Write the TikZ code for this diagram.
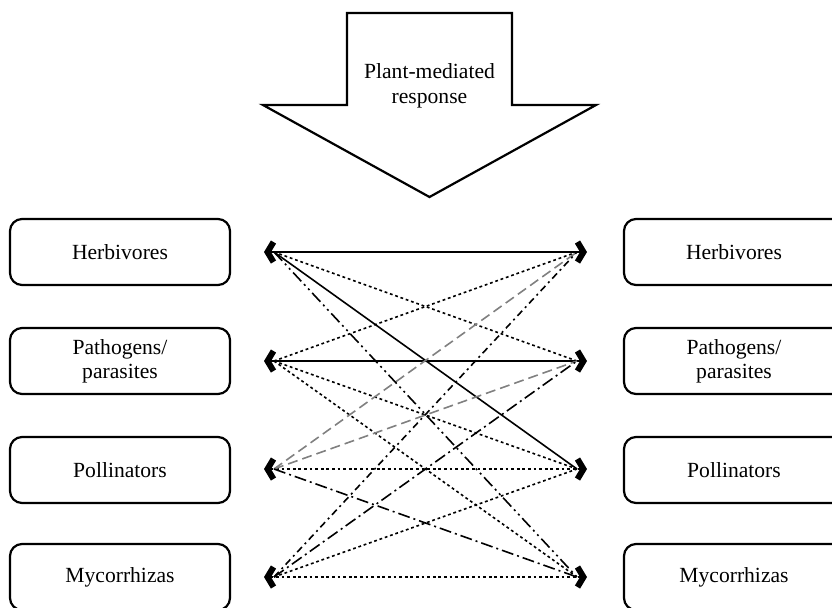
\documentclass[tikz,border=0pt]{standalone}
\usepackage{fontspec}
\setmainfont{Liberation Serif}
\usetikzlibrary{arrows.meta}

\begin{document}
\begin{tikzpicture}[x=0.5pt, y=-0.5pt, line width=0.8pt,
    group/.style={draw, line width=1.1pt, rounded corners=6pt, minimum width=110pt,
                  minimum height=33pt, align=center, font=\fontsize{10.8}{12}\selectfont},
    chev/.style={{Straight Barb[length=3pt,width=10pt,line width=3pt]}-{Straight Barb[length=3pt,width=10pt,line width=3pt]},
                 shorten <=-5pt, shorten >=-5pt},
    dots/.style={dash pattern=on 1.4pt off 1.4pt},
    grey/.style={gray, dash pattern=on 5pt off 2.5pt},
    dd/.style={dash pattern=on 3.5pt off 2pt on 1pt off 2pt},
    ldd/.style={dash pattern=on 6pt off 2pt on 1pt off 2pt},
    lddd/.style={dash pattern=on 6pt off 2pt on 1pt off 2pt on 1pt off 2pt}]
    \clip (0,0) rectangle (832,607);

    % response arrow
    \draw[line width=1.1pt] (347,13) -- (512,13) -- (512,105) -- (596,105) -- (429.5,197)
        -- (263,105) -- (347,105) -- cycle;
    \node(resp) at (429.5,86) [align=center, font=\fontsize{10.8}{12.5}\selectfont] {Plant-mediated\\response};

    \node[group](herbL) at (120, 252) {Herbivores};
    \node[group](pathL) at (120, 361) {Pathogens/\\parasites};
    \node[group](pollL) at (120, 470) {Pollinators};
    \node[group](mycoL) at (120, 577) {Mycorrhizas};

    \node[group](herbR) at (734, 252) {Herbivores};
    \node[group](pathR) at (734, 361) {Pathogens/\\parasites};
    \node[group](pollR) at (734, 470) {Pollinators};
    \node[group](mycoR) at (734, 577) {Mycorrhizas};

    \coordinate(hl) at (274, 252);
    \coordinate(pl) at (274, 361);
    \coordinate(ol) at (274, 469);
    \coordinate(ml) at (274, 577);
    \coordinate(hr) at (577, 252);
    \coordinate(pr) at (577, 361);
    \coordinate(or) at (577, 469);
    \coordinate(mr) at (577, 577);

    \draw[chev] (hl) -- (hr);
    \draw[chev] (pl) -- (pr);
    \draw[chev, dots] (ol) -- (or);
    \draw[chev, dots] (ml) -- (mr);

    \draw (hl) -- (or);
    \draw[dots] (hl) edge (pr)
                (pl) edge (hr)
                (pl) edge (or)
                (pl) edge (mr)
                (ml) edge (or);
    \draw[grey] (ol) edge (hr)
                (ol) edge (pr);
    \draw[lddd] (hl) -- (mr);
    \draw[ldd] (ol) -- (mr);
    \draw[dd] (ml) -- (hr);
    \draw[ldd] (ml) -- (pr);
\end{tikzpicture}
\end{document}
